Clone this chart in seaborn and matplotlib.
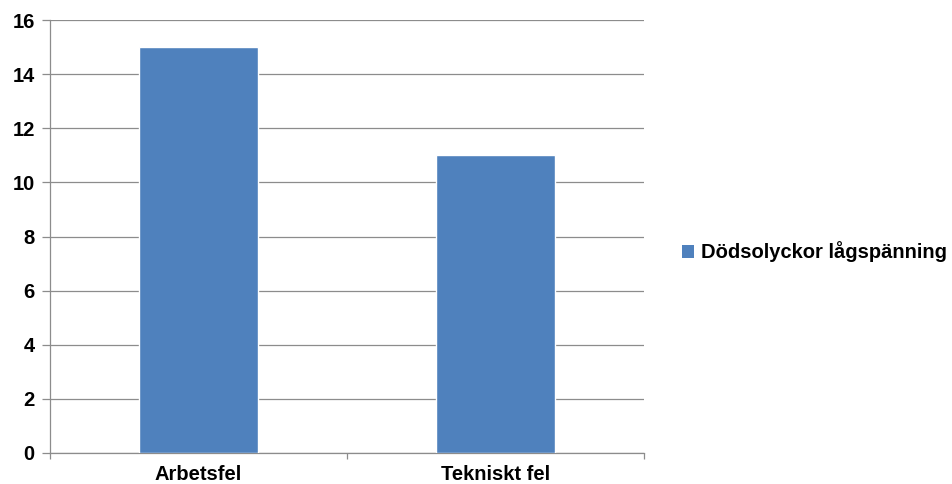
import matplotlib
matplotlib.use("Agg")
import matplotlib.pyplot as plt
import seaborn as sns
import pandas as pd
from matplotlib.patches import Patch

categories = ["Arbetsfel", "Tekniskt fel"]
values = [15, 11]
series_name = "Dödsolyckor lågspänning"
yticks = [0, 2, 4, 6, 8, 10, 12, 14, 16]

df = pd.DataFrame({"Orsak": categories, "Antal": values})

sns.set_theme(style="white")
plt.rcParams["font.family"] = ["Liberation Sans", "DejaVu Sans"]
plt.rcParams["text.color"] = "black"

bar_color = "#4F81BD"
grid_color = "#8C8C8C"
fs = 14.5

fig = plt.figure(figsize=(9.53, 4.84), dpi=100)
ax = fig.add_axes([50 / 953, 31 / 484, 594 / 953, 433 / 484])

sns.barplot(data=df, x="Orsak", y="Antal", color=bar_color, width=0.4,
            saturation=1, ax=ax, zorder=3)

ax.set_xlim(-0.5, 1.5)
ax.set_ylim(0, 16)
ax.set_yticks(yticks)
ax.set_yticklabels([str(t) for t in yticks], fontsize=fs, fontweight="bold")
ax.set_xticks([0, 1])
ax.set_xticklabels(categories, fontsize=fs, fontweight="bold")
ax.set_xlabel("")
ax.set_ylabel("")

ax.yaxis.grid(True, color=grid_color, linewidth=0.9, zorder=0)
ax.set_axisbelow(True)
for side in ["top", "right"]:
    ax.spines[side].set_visible(False)
for side in ["left", "bottom"]:
    ax.spines[side].set_color(grid_color)
    ax.spines[side].set_linewidth(0.9)

ax.tick_params(axis="y", which="major", left=True, length=6, width=0.9,
               color=grid_color, pad=5, labelcolor="black")
ax.tick_params(axis="x", which="major", bottom=False, pad=3, labelcolor="black")
# category boundary ticks
ax.set_xticks([-0.5, 0.5, 1.5], minor=True)
ax.tick_params(axis="x", which="minor", bottom=True, length=4, width=0.9,
               color=grid_color, direction="out")

handles = [Patch(facecolor=bar_color, edgecolor="none", label=series_name)]
fig.legend(handles=handles, loc="center left", bbox_to_anchor=(664 / 953, 1 - 252 / 484),
           frameon=False, prop={"weight": "bold", "size": fs}, labelcolor="black",
           handlelength=0.6, handleheight=0.6, handletextpad=0.35)

fig.savefig("out.png", dpi=100, facecolor="white")
